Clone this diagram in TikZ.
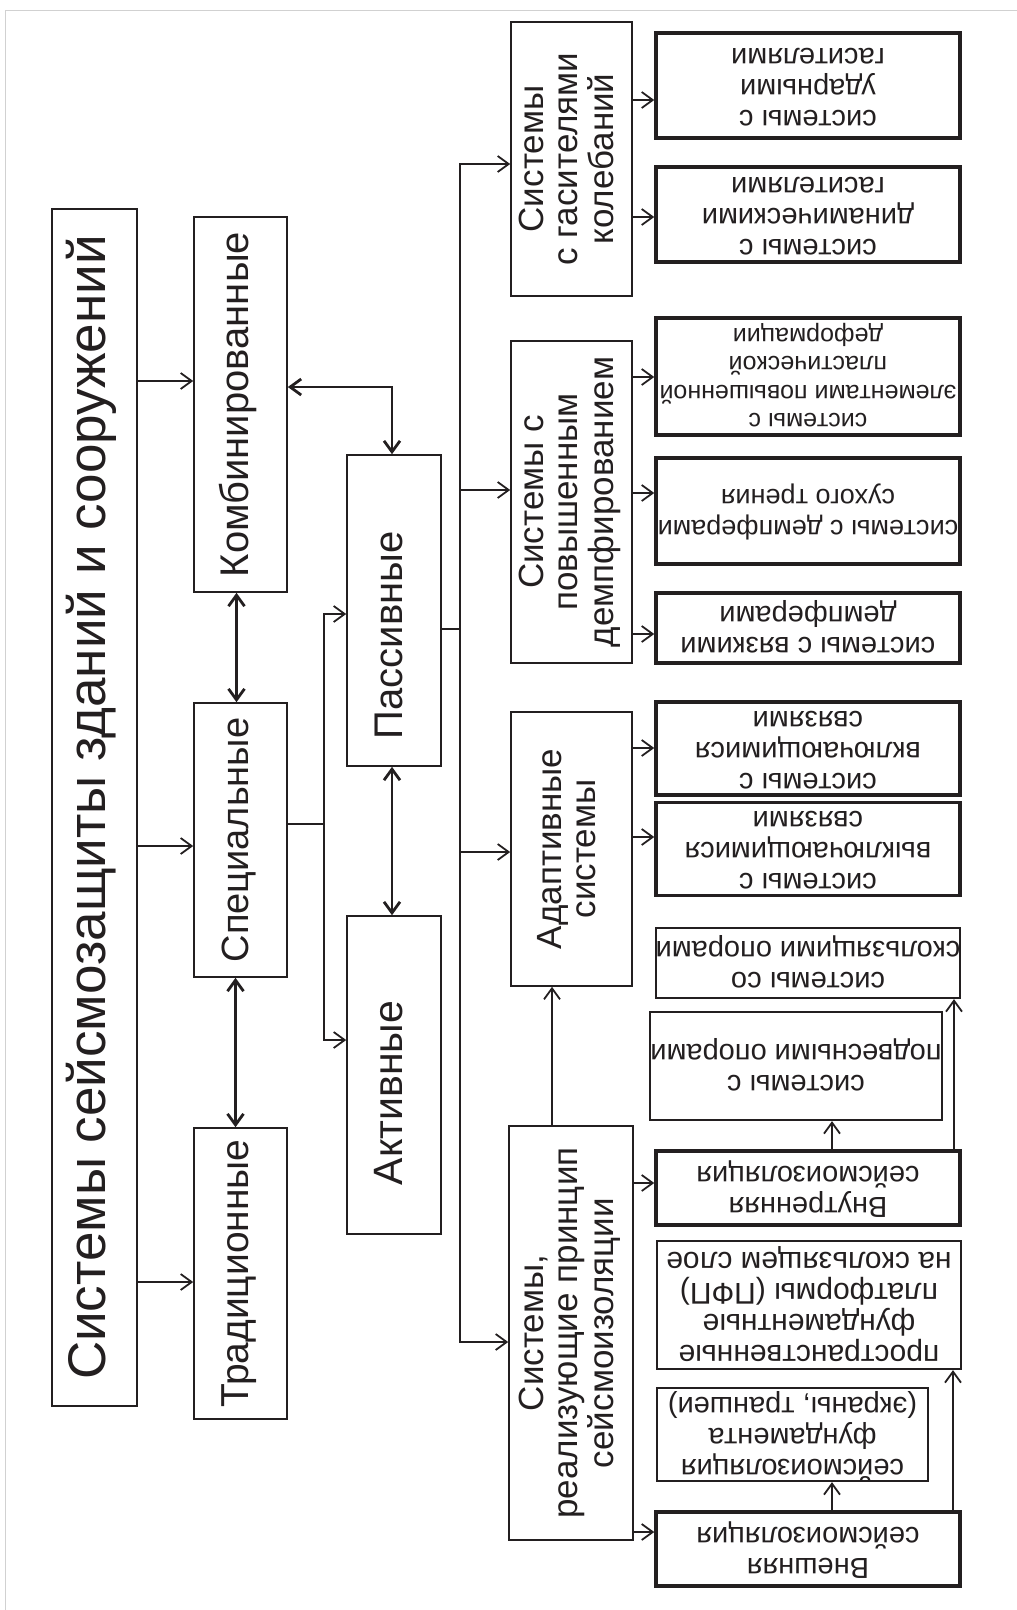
\documentclass[tikz,border=0pt]{standalone}
\usepackage{fontspec}
\setmainfont{Liberation Sans}
\usetikzlibrary{arrows.meta}
\definecolor{ink}{RGB}{35,31,32}
\newcommand{\vtxt}[1]{\rotatebox{90}{\begin{tabular}{@{}c@{}}#1\end{tabular}}}
\newcommand{\utxt}[1]{\rotatebox{180}{\begin{tabular}{@{}c@{}}#1\end{tabular}}}
\tikzset{
  box/.style={draw=ink, line width=1.6pt, inner sep=0pt, text=ink},
  lbox/.style={box, minimum width=93pt, font=\fontsize{39}{42}\selectfont},
  mbox/.style={box, minimum width=121pt, font=\fontsize{35}{34}\selectfont},
  rbox/.style={box, line width=3.5pt, minimum width=304pt, font=\fontsize{29}{31}\selectfont},
  rthin/.style={rbox, line width=2.2pt},
  arr/.style={draw=ink, line width=1.8pt, -{Straight Barb[length=11pt,width=16pt]}},
  darr/.style={draw=ink, line width=2.8pt, {Straight Barb[length=11pt,width=16pt]}-{Straight Barb[length=11pt,width=16pt]}},
}
\begin{document}
\begin{tikzpicture}[x=1pt,y=-1pt]
  \useasboundingbox (0,0) rectangle (1017,1610);
  \draw[black!18, line width=1pt] (5,1610) -- (5,10) -- (1017,10);
  % left part
  \node[box, minimum width=85pt, minimum height=1197pt, font=\fontsize{53}{56}\selectfont] (title) at (94.5,807.5)
    {\vtxt{Системы сейсмозащиты зданий и сооружений}};
  \node[lbox, minimum height=375pt, font=\fontsize{40}{42}\selectfont] (komb) at (240.5,404.5) {\vtxt{Комбинированные}};
  \node[lbox, minimum height=274pt, font=\fontsize{38}{42}\selectfont] (spec) at (240.5,840) {\vtxt{Специальные}};
  \node[lbox, minimum height=291pt] (trad) at (240.5,1273.5) {\vtxt{Традиционные}};
  \node[lbox, minimum width=94pt, minimum height=311pt, font=\fontsize{40}{42}\selectfont] (pass) at (394,610.5)
    {\vtxt{Пассивные\hspace*{50pt}}};
  \node[lbox, minimum width=94pt, minimum height=318pt, font=\fontsize{41}{42}\selectfont] (akt) at (394,1075)
    {\vtxt{Активные\hspace*{36pt}}};
  % middle column
  \node[mbox, minimum height=274pt] (gas) at (571.5,159) {\vtxt{Системы\\с гасителями\\колебаний}};
  \node[mbox, minimum height=322pt] (demp) at (571.5,502) {\vtxt{Системы с\\повышенным\\демпфированием}};
  \node[mbox, minimum height=274pt] (adapt) at (571.5,849) {\vtxt{Адаптивные\\системы}};
  \node[mbox, minimum width=124pt, minimum height=414pt] (real) at (571,1333)
    {\vtxt{Системы,\\реализующие принцип\\сейсмоизоляции}};
  % right column
  \node[rbox, minimum height=105pt] (udar) at (808,85.5) {\utxt{системы с\\ударными\\гасителями}};
  \node[rbox, minimum height=95pt] (dinam) at (808,214.5) {\utxt{системы с\\динамическими\\гасителями}};
  \node[rbox, minimum height=117pt, font=\fontsize{25}{28.5}\selectfont] (plast) at (808,376.5)
    {\utxt{системы с\\элементами повышенной\\пластической\\деформации}};
  \node[rbox, minimum height=106pt, font=\fontsize{27}{31}\selectfont] (suhoe) at (808,511)
    {\utxt{системы с демпферами\\сухого трения}};
  \node[rbox, minimum height=70pt] (vyazk) at (808,628) {\utxt{системы с вязкими\\демпферами}};
  \node[rbox, minimum height=87pt] (vkl) at (808,748.5) {\utxt{системы с\\включающимися\\связями}};
  \node[rbox, minimum height=86pt] (vykl) at (808,849) {\utxt{системы с\\выключающимися\\связями}};
  \node[rthin, minimum height=70pt] (skolz) at (808,963) {\utxt{системы со\\скользящими опорами}};
  \node[rthin, minimum width=280pt, minimum height=108pt] (podv) at (796,1066) {\utxt{системы с\\подвесными опорами}};
  \node[rbox, minimum height=74pt] (vnutr) at (808,1188) {\utxt{Внутренняя\\сейсмоизоляция}};
  \node[rthin, minimum height=128pt, font=\fontsize{30}{31}\selectfont] (prostr) at (809,1305)
    {\utxt{пространственные\\фундаментные\\платформы (ПФП)\\на скользящем слое}};
  \node[rthin, minimum width=271pt, minimum height=93pt] (fund) at (792.5,1434.5)
    {\utxt{сейсмоизоляция\\фундамента\\(экраны, траншеи)}};
  \node[rbox, minimum height=74pt] (vnesh) at (808,1549) {\utxt{Внешняя\\сейсмоизоляция}};
  % connectors
  \draw[arr] (title.east |- 0,381) -- (komb.west |- 0,381);
  \draw[arr] (title.east |- 0,846) -- (spec.west |- 0,846);
  \draw[arr] (title.east |- 0,1282) -- (trad.west |- 0,1282);
  \draw[darr] ([xshift=-4pt]komb.south) -- ([xshift=-4pt]spec.north);
  \draw[darr] ([xshift=-5pt]spec.south) -- ([xshift=-5pt]trad.north);
  \draw[darr] (komb.east |- 0,387) -| ([xshift=-2pt]pass.north);
  \draw[darr] ([xshift=-2pt]pass.south) -- ([xshift=-2pt]akt.north);
  \coordinate (sbus) at (324,824);
  \draw[arr] (spec.east |- sbus) -- (sbus) |- (pass.west |- 0,614);
  \draw[arr] (sbus) |- (akt.west |- 0,1040);
  \coordinate (pbus) at (460,629);
  \draw[arr] (pass.east |- pbus) -- (pbus) |- (gas.west |- 0,164);
  \draw[arr] (pbus) |- (real.west |- 0,1342);
  \draw[arr] (pbus |- 0,490) -- (demp.west |- 0,490);
  \draw[arr] (pbus |- 0,852) -- (adapt.west |- 0,852);
  \draw[arr] (gas.east |- 0,100) -- (udar.west |- 0,100);
  \draw[arr] (gas.east |- 0,217) -- (dinam.west |- 0,217);
  \draw[arr] (demp.east |- 0,377) -- (plast.west |- 0,377);
  \draw[arr] (demp.east |- 0,493) -- (suhoe.west |- 0,493);
  \draw[arr] (demp.east |- 0,634) -- (vyazk.west |- 0,634);
  \draw[arr] (adapt.east |- 0,748) -- (vkl.west |- 0,748);
  \draw[arr] (adapt.east |- 0,837) -- (vykl.west |- 0,837);
  \draw[arr] (real.north -| 552,0) -- (adapt.south -| 552,0);
  \draw[arr] (real.east |- 0,1183) -- (vnutr.west |- 0,1183);
  \draw[arr] (real.east |- 0,1532) -- (vnesh.west |- 0,1532);
  \draw[arr] (vnutr.north -| 832,0) -- (podv.south -| 832,0);
  \draw[arr] (vnutr.north -| 954,0) -- (skolz.south -| 954,0);
  \draw[arr] (vnesh.north -| 832,0) -- (fund.south -| 832,0);
  \draw[arr] (vnesh.north -| 953,0) -- (prostr.south -| 953,0);
\end{tikzpicture}
\end{document}
